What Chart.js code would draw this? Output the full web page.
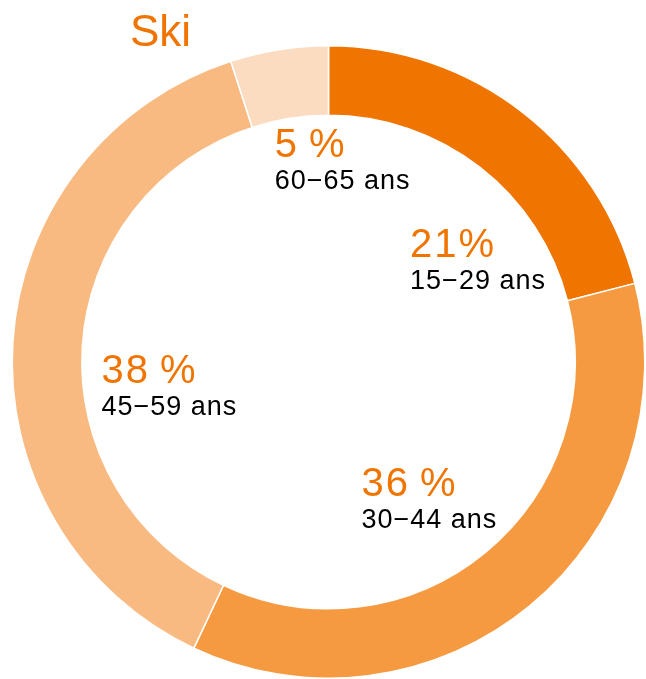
<!DOCTYPE html>
<html>
<head>
<meta charset="utf-8">
<script src="https://cdn.jsdelivr.net/npm/chart.js@4/dist/chart.umd.min.js"></script>
<style>
  html, body { margin: 0; padding: 0; background: #ffffff; }
  #wrap { width: 646px; height: 679px; position: relative; overflow: hidden; }
</style>
</head>
<body>
<div id="wrap"><canvas id="c" width="646" height="679"></canvas></div>
<script>
// ---- data ----
const chartTitle = 'Ski';
const categories = ['15\u221229 ans', '30\u221244 ans', '45\u221259 ans', '60\u221265 ans'];
const shares = [21, 36, 38, 5];
const percentLabels = ['21%', '36\u2009%', '38\u2009%', '5\u2009%'];
const sliceColors = ['#F07400', '#F59A41', '#F9BA81', '#FBDCC0'];
// label anchors: offsets from the ring centre, in units of the outer radius
const labelOffsetX = [0.258, 0.104, -0.718, -0.170];
const labelOffsetY = [-0.332, 0.424, 0.065, -0.647];

const ORANGE = '#F07400';
const FONT = '"Liberation Sans", Arial, Helvetica, sans-serif';

const labelPlugin = {
  id: 'ringLabels',
  afterDraw(chart) {
    const ctx = chart.ctx;
    const arc = chart.getDatasetMeta(0).data[0];
    const cx = arc.x, cy = arc.y, R = arc.outerRadius;
    ctx.save();
    ctx.textAlign = 'left';
    ctx.textBaseline = 'alphabetic';
    // title
    ctx.fillStyle = ORANGE;
    ctx.font = '44px ' + FONT;
    ctx.fillText(chartTitle, cx - 0.628 * R, cy - 1.0 * R);
    for (let i = 0; i < shares.length; i++) {
      const x = cx + labelOffsetX[i] * R;
      const y = cy + labelOffsetY[i] * R;
      ctx.fillStyle = ORANGE;
      ctx.font = '40px ' + FONT;
      ctx.letterSpacing = '2px';
      ctx.fillText(percentLabels[i], x, y);
      ctx.fillStyle = '#000000';
      ctx.font = '27px ' + FONT;
      ctx.letterSpacing = '1px';
      ctx.fillText(categories[i], x, y + 32);
      ctx.letterSpacing = '0px';
    }
    ctx.restore();
  }
};

new Chart(document.getElementById('c'), {
  type: 'doughnut',
  data: {
    labels: categories,
    datasets: [{
      data: shares,
      backgroundColor: sliceColors,
      borderColor: '#ffffff',
      borderWidth: 1.5,
      hoverOffset: 0
    }]
  },
  options: {
    responsive: false,
    devicePixelRatio: 1,
    animation: false,
    cutout: '78%',
    rotation: 0,
    layout: { padding: { left: 11, top: 45, right: -1, bottom: -3 } },
    plugins: {
      legend: { display: false },
      tooltip: { enabled: false },
      title: { display: false }
    }
  },
  plugins: [labelPlugin]
});
</script>
</body>
</html>
